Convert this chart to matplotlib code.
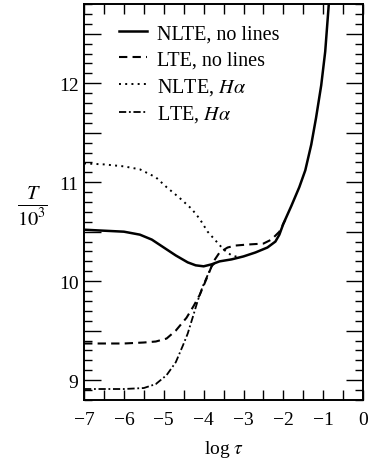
import numpy as np
import matplotlib.pyplot as plt
from matplotlib.ticker import MultipleLocator, FuncFormatter

plt.rcParams['font.family'] = ['Liberation Serif', 'DejaVu Serif']
plt.rcParams['mathtext.fontset'] = 'stix'

# NLTE, no lines (solid)
nlte_x = [-7.0, -6.5, -6.0, -5.6, -5.3, -5.0, -4.7, -4.4, -4.2, -4.0, -3.8, -3.6,
          -3.3, -3.0, -2.7, -2.4, -2.2, -2.1, -2.0, -1.8, -1.6, -1.45, -1.3,
          -1.18, -1.05, -0.95, -0.86]
nlte_T = [10.52, 10.51, 10.50, 10.47, 10.42, 10.34, 10.26, 10.19, 10.16, 10.15,
          10.17, 10.20, 10.22, 10.25, 10.29, 10.34, 10.40, 10.47, 10.58, 10.76,
          10.95, 11.12, 11.38, 11.65, 11.98, 12.32, 12.8]

# LTE, no lines (dashed)
lte_x = [-7.0, -6.0, -5.5, -5.2, -4.93, -4.7, -4.43, -4.25, -4.1, -3.9, -3.75,
         -3.6, -3.4, -3.2, -2.9, -2.5, -2.3, -2.1, -1.95]
lte_T = [9.37, 9.37, 9.38, 9.39, 9.42, 9.50, 9.63, 9.75, 9.86, 10.05, 10.20,
         10.29, 10.34, 10.36, 10.37, 10.38, 10.42, 10.50, 10.62]

# NLTE, H-alpha (dotted)
nlte_ha_x = [-7.0, -6.5, -6.0, -5.6, -5.2, -4.93, -4.6, -4.3, -4.1, -3.9, -3.7,
             -3.5, -3.3, -3.1]
nlte_ha_T = [11.19, 11.18, 11.16, 11.13, 11.05, 10.95, 10.84, 10.73, 10.63,
             10.50, 10.41, 10.32, 10.26, 10.24]

# LTE, H-alpha (dash-dot)
lte_ha_x = [-7.0, -6.5, -6.0, -5.5, -5.2, -4.93, -4.7, -4.52, -4.4, -4.27,
            -4.15, -4.02, -3.9, -3.8, -3.7]
lte_ha_T = [8.91, 8.91, 8.91, 8.92, 8.96, 9.05, 9.18, 9.35, 9.47, 9.64, 9.80,
            9.95, 10.06, 10.15, 10.19]

fig = plt.figure(figsize=(3.72, 4.64), dpi=100)
ax = fig.add_axes([0.226, 0.136, 0.75, 0.853])

ax.plot(nlte_x, nlte_T, color='black', lw=1.8, ls='-', label='NLTE, no lines')
ax.plot(lte_x, lte_T, color='black', lw=1.5, ls=(0, (4, 2.5)), label='LTE, no lines')
ax.plot(nlte_ha_x, nlte_ha_T, color='black', lw=1.4, ls=(0, (1, 2.2)),
        label=r'NLTE, $H\alpha$')
ax.plot(lte_ha_x, lte_ha_T, color='black', lw=1.3, ls=(0, (4, 1.5, 1, 1.5)),
        label=r'LTE, $H\alpha$')

ax.set_xlim(-7, 0)
ax.set_ylim(8.8, 12.8)

ax.xaxis.set_major_locator(MultipleLocator(1))
ax.xaxis.set_minor_locator(MultipleLocator(0.5))
ax.yaxis.set_major_locator(MultipleLocator(0.5))
ax.yaxis.set_minor_locator(MultipleLocator(0.1))
ax.yaxis.set_major_formatter(FuncFormatter(
    lambda v, p: '%d' % round(v) if abs(v - round(v)) < 1e-6 else ''))
ax.xaxis.set_major_formatter(FuncFormatter(
    lambda v, p: '0' if abs(v) < 1e-6 else '\u2212%d' % round(-v)))

ax.tick_params(which='both', direction='in', top=True, right=True,
               labelsize=14, width=1.0)
ax.tick_params(axis='y', which='major', length=12, pad=4)
ax.tick_params(axis='y', which='minor', length=6)
ax.tick_params(axis='x', which='both', length=7, pad=8)
for s in ax.spines.values():
    s.set_linewidth(1.4)

ax.set_xlabel(r'log $\tau$', fontsize=14, labelpad=7)
fig.text(0.088, 0.555, r'$\frac{T}{10^3}$', fontsize=21, ha='center', va='center')

ax.legend(loc='upper left', bbox_to_anchor=(0.06, 0.995), frameon=False,
          fontsize=14.5, handlelength=1.4, handletextpad=0.5, labelspacing=0.33)

plt.savefig('out.png', dpi=100)
